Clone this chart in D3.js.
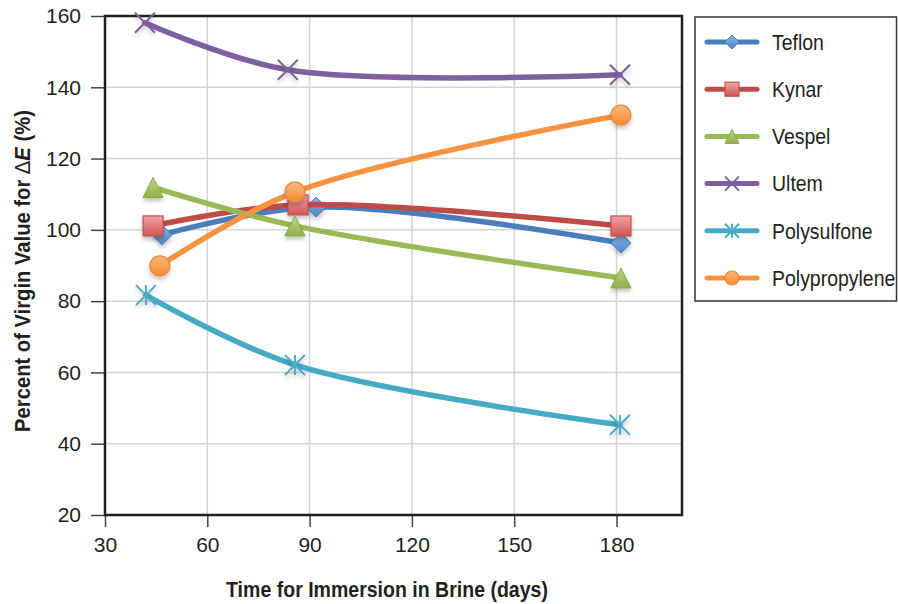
<!DOCTYPE html>
<html>
<head>
<meta charset="utf-8">
<script src="https://cdn.jsdelivr.net/npm/d3@7"></script>
<style>
  html, body { margin: 0; padding: 0; background: #fff; }
  svg { display: block; }
  text { font-family: "Liberation Sans", Arial, sans-serif; fill: #231f20; }
</style>
</head>
<body>
<svg id="chart" width="898" height="604"></svg>
<script>
// ---- Data ----
const seriesNames = ["Teflon", "Kynar", "Vespel", "Ultem", "Polysulfone", "Polypropylene"];
const tefDays = [46.7, 91.9, 181.3];
const tefVals = [98.6, 106.4, 96.3];
const kynDays = [44.1, 86.6, 181.3];
const kynVals = [101.1, 107.0, 101.1];
const vesDays = [44.1, 85.7, 181.3];
const vesVals = [111.9, 101.1, 86.5];
const ultDays = [41.7, 83.6, 181.0];
const ultVals = [158.1, 144.9, 143.5];
const psuDays = [42.0, 85.7, 181.0];
const psuVals = [81.7, 62.1, 45.3];
const ppDays = [46.1, 85.7, 181.3];
const ppVals = [89.9, 110.6, 132.2];
const xTicks = [30, 60, 90, 120, 150, 180];
const yTicks = [20, 40, 60, 80, 100, 120, 140, 160];
const xTitle = "Time for Immersion in Brine (days)";

const seriesDays = [tefDays, kynDays, vesDays, ultDays, psuDays, ppDays];
const seriesVals = [tefVals, kynVals, vesVals, ultVals, psuVals, ppVals];
const lineColors = ["#4a7ebb", "#be4b48", "#98b954", "#7d60a0", "#46aac5", "#f69240"];
const markerTypes = ["diamond", "square", "triangle", "x", "asterisk", "circle"];
const fillTop = ["#8db4e8", "#f2a3a3", "#bcd88a", "", "", "#fbb97c"];
const fillBot = ["#4f86c6", "#d05552", "#8fb04a", "", "", "#f58a30"];
const strokeCol = ["#4a7ebb", "#c0504d", "#86a844", "#7d60a0", "#4bacc6", "#e9843a"];

// ---- Layout ----
const svg = d3.select("#chart");
const L = 105, R = 682, T = 16, B = 515;
const x = d3.scaleLinear().domain([30, 199.2]).range([L, R]);
const y = d3.scaleLinear().domain([20, 160]).range([B, T]);

const defs = svg.append("defs");
const f = defs.append("filter").attr("id", "shadow").attr("x", "-50%").attr("y", "-50%").attr("width", "200%").attr("height", "200%");
f.append("feGaussianBlur").attr("in", "SourceAlpha").attr("stdDeviation", 2);
f.append("feOffset").attr("dx", 0).attr("dy", 3).attr("result", "ob");
f.append("feComponentTransfer").append("feFuncA").attr("type", "linear").attr("slope", 0.25);
const fm = f.append("feMerge");
fm.append("feMergeNode");
fm.append("feMergeNode").attr("in", "SourceGraphic");

seriesNames.forEach((n, i) => {
  if (!fillTop[i]) return;
  const g = defs.append("linearGradient").attr("id", "grad" + i).attr("x1", 0).attr("y1", 0).attr("x2", 0).attr("y2", 1);
  g.append("stop").attr("offset", "0%").attr("stop-color", fillTop[i]);
  g.append("stop").attr("offset", "100%").attr("stop-color", fillBot[i]);
});

// Grid lines
svg.append("g").selectAll("line.vg").data(xTicks.filter(d => d > 30)).enter().append("line")
  .attr("x1", d => x(d)).attr("x2", d => x(d)).attr("y1", T).attr("y2", B)
  .attr("stroke", "#d4d4d4").attr("stroke-width", 1.5);
svg.append("g").selectAll("line.hg").data(yTicks.filter(d => d > 20 && d < 160)).enter().append("line")
  .attr("x1", L).attr("x2", R).attr("y1", d => y(d)).attr("y2", d => y(d))
  .attr("stroke", "#d4d4d4").attr("stroke-width", 1.5);

// Axes
const yAxis = d3.axisLeft(y).tickValues(yTicks).tickSize(14).tickPadding(10).tickFormat(d3.format("d"));
const gy = svg.append("g").attr("transform", `translate(${L},0)`).call(yAxis);
gy.select(".domain").remove();
gy.selectAll(".tick line").attr("stroke", "#444").attr("stroke-width", 1.5);
gy.selectAll(".tick text").style("font-size", "21px").attr("fill", "#231f20");

const xAxis = d3.axisBottom(x).tickValues(xTicks).tickSize(12).tickPadding(10).tickFormat(d3.format("d"));
const gx = svg.append("g").attr("transform", `translate(0,${B})`).call(xAxis);
gx.select(".domain").remove();
gx.selectAll(".tick line").attr("stroke", "#444").attr("stroke-width", 1.5);
gx.selectAll(".tick text").style("font-size", "21px").attr("fill", "#231f20");

// Frame
svg.append("rect").attr("x", L).attr("y", T).attr("width", R - L).attr("height", B - T)
  .attr("fill", "none").attr("stroke", "#231f20").attr("stroke-width", 2.5);

// Marker drawing
function drawMarker(g, type, i, size) {
  const h = size / 2;
  const fill = fillTop[i] ? `url(#grad${i})` : "none";
  if (type === "diamond") {
    g.append("path").attr("d", `M0,${-h}L${h},0L0,${h}L${-h},0Z`).attr("fill", fill).attr("stroke", strokeCol[i]).attr("stroke-width", 1);
  } else if (type === "square") {
    g.append("rect").attr("x", -h).attr("y", -h).attr("width", size).attr("height", size).attr("fill", fill).attr("stroke", strokeCol[i]).attr("stroke-width", 1.2);
  } else if (type === "triangle") {
    g.append("path").attr("d", `M0,${-h}L${h},${h}L${-h},${h}Z`).attr("fill", fill).attr("stroke", strokeCol[i]).attr("stroke-width", 1);
  } else if (type === "circle") {
    g.append("circle").attr("r", h).attr("fill", fill).attr("stroke", strokeCol[i]).attr("stroke-width", 1.2);
  } else if (type === "x") {
    g.append("path").attr("d", `M${-h},${-h}L${h},${h}M${h},${-h}L${-h},${h}`).attr("stroke", strokeCol[i]).attr("stroke-width", 2).attr("fill", "none");
  } else if (type === "asterisk") {
    g.append("path").attr("d", `M${-h},${-h}L${h},${h}M${h},${-h}L${-h},${h}M0,${-h}L0,${h}`).attr("stroke", strokeCol[i]).attr("stroke-width", 2).attr("fill", "none");
  }
}

// Series
const line = d3.line().x(d => x(d[0])).y(d => y(d[1])).curve(d3.curveCatmullRom.alpha(0.5));
seriesNames.forEach((n, i) => {
  const pts = seriesDays[i].map((d, k) => [d, seriesVals[i][k]]);
  const g = svg.append("g");
  g.append("path").attr("d", line(pts)).attr("fill", "none").attr("stroke", lineColors[i])
    .attr("stroke-width", 5.5).attr("stroke-linecap", "round").attr("stroke-linejoin", "round");
  pts.forEach(p => {
    const mg = g.append("g").attr("transform", `translate(${x(p[0])},${y(p[1])})`).attr("filter", "url(#shadow)");
    drawMarker(mg, markerTypes[i], i, 20);
  });
});

// helper: squeeze text horizontally to a target width
function squeeze(sel, cx, cy, rot, target) {
  const len = sel.node().getComputedTextLength();
  const s = target / len;
  sel.attr("transform", `translate(${cx},${cy}) rotate(${rot}) scale(${s},1)`);
}

// Axis titles
const xt = svg.append("text").attr("x", 0).attr("y", 0).attr("text-anchor", "middle")
  .style("font-size", "22px").style("font-weight", "bold").text(xTitle);
squeeze(xt, 387, 597, 0, 322);

const yt = svg.append("text").attr("text-anchor", "middle")
  .style("font-size", "22px").style("font-weight", "bold");
yt.append("tspan").text("Percent of Virgin Value for ");
yt.append("tspan").style("font-weight", "normal").text("\u0394");
yt.append("tspan").style("font-style", "italic").text("E");
yt.append("tspan").text(" (%)");
squeeze(yt, 30, 271, -90, 322);

// Legend
const lg = svg.append("g");
lg.append("rect").attr("x", 695).attr("y", 17).attr("width", 201.5).attr("height", 284)
  .attr("fill", "#fff").attr("stroke", "#333").attr("stroke-width", 1.5);
seriesNames.forEach((n, i) => {
  const cy = 42 + i * 47.2;
  lg.append("line").attr("x1", 707).attr("x2", 757).attr("y1", cy).attr("y2", cy)
    .attr("stroke", lineColors[i]).attr("stroke-width", 5).attr("stroke-linecap", "round");
  const mg = lg.append("g").attr("transform", `translate(732,${cy})`);
  drawMarker(mg, markerTypes[i], i, 14);
  lg.append("text").attr("transform", `translate(772,${cy}) scale(0.885,1)`).attr("dy", "0.35em")
    .style("font-size", "22px").text(n);
});
</script>
</body>
</html>
